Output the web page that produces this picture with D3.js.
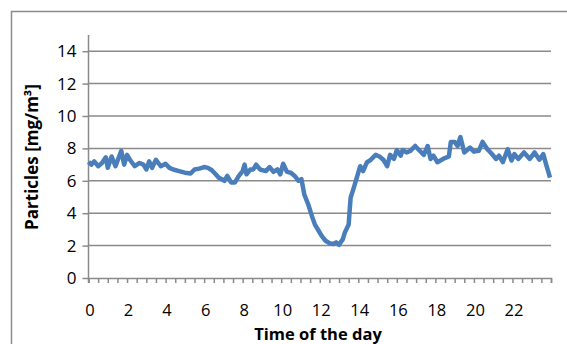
<!DOCTYPE html>
<html><head><meta charset="utf-8">
<script src="https://cdn.jsdelivr.net/npm/d3@7"></script>
<style>body{margin:0;background:#fff}svg{display:block}</style>
</head><body>
<script>
const hours = [0,0.15,0.3,0.5,0.7,0.9,1.0,1.2,1.4,1.7,1.85,2.0,2.15,2.4,2.65,2.85,3.0,3.15,3.3,3.5,3.75,4.0,4.2,4.4,4.7,5.0,5.3,5.5,5.75,6.0,6.2,6.4,6.6,6.75,7.05,7.2,7.4,7.6,7.8,8.0,8.1,8.2,8.4,8.55,8.7,8.9,9.2,9.4,9.6,9.8,9.95,10.1,10.3,10.5,10.7,10.9,11.05,11.2,11.4,11.6,11.75,11.95,12.1,12.3,12.5,12.7,12.85,13.0,13.2,13.3,13.5,13.6,13.8,14.0,14.1,14.25,14.45,14.6,14.9,15.1,15.3,15.5,15.65,15.85,16.0,16.2,16.3,16.5,16.7,16.95,17.15,17.4,17.6,17.75,17.9,18.1,18.4,18.7,18.8,19.0,19.15,19.3,19.5,19.8,20.0,20.25,20.45,20.7,20.9,21.15,21.3,21.5,21.75,21.95,22.1,22.3,22.6,22.9,23.15,23.4,23.6,23.75,23.95];
const particles = [7.17,7.0,7.2,6.9,7.1,7.45,6.8,7.5,6.9,7.85,7.0,7.6,7.3,6.9,7.1,7.0,6.7,7.2,6.8,7.3,6.9,7.05,6.8,6.7,6.6,6.5,6.45,6.7,6.75,6.85,6.8,6.65,6.4,6.2,6.0,6.3,5.9,5.9,6.3,6.6,7.0,6.4,6.7,6.7,7.0,6.7,6.6,6.85,6.55,6.7,6.4,7.05,6.55,6.5,6.3,6.0,6.1,5.15,4.55,3.8,3.3,2.9,2.6,2.3,2.15,2.1,2.2,2.05,2.4,2.8,3.3,4.95,5.7,6.5,6.9,6.6,7.15,7.25,7.6,7.5,7.3,6.9,7.6,7.35,7.9,7.55,7.9,7.75,7.85,8.15,7.9,7.6,8.15,7.35,7.55,7.15,7.35,7.5,8.4,8.4,8.15,8.7,7.75,8.05,7.8,7.85,8.4,7.95,7.7,7.35,7.55,7.15,7.95,7.25,7.65,7.35,7.75,7.35,7.75,7.3,7.65,7.0,6.2];
const yTicks = [0,2,4,6,8,10,12,14];
const xTickLabels = [0,2,4,6,8,10,12,14,16,18,20,22];
const yTitle = "Particles [mg/m³]";
const xTitle = "Time of the day";

const W = 567, H = 344;
const svg = d3.select("body").append("svg").attr("width", W).attr("height", H);
const font = "'Open Sans', Lato, sans-serif";

// outer frame
svg.append("path").attr("d", `M11.5,${H}V11.5H${W}`).attr("fill","none").attr("stroke","#8c8c8c").attr("stroke-width",1.5);

const x = d3.scaleLinear().domain([0,24]).range([88.5, 551]);
const y = d3.scaleLinear().domain([0,15]).range([278, 35]);
const grid = "#8a8a8a";

// gridlines
svg.append("g").selectAll("line").data(yTicks.filter(d=>d>0)).join("line")
  .attr("x1", x(0)).attr("x2", x(24)).attr("y1", d=>y(d)).attr("y2", d=>y(d))
  .attr("stroke", grid).attr("stroke-width", 1.5);

// y axis
const yAxis = svg.append("g").attr("transform",`translate(${x(0)},0)`)
  .call(d3.axisLeft(y).tickValues(yTicks).tickSize(6).tickPadding(6).tickFormat(d3.format("d")));
yAxis.select(".domain").remove();
yAxis.selectAll("line").attr("stroke", grid).attr("stroke-width",1.5);
yAxis.selectAll("text").attr("font-family", font).attr("font-size", 17).attr("fill","#000");
svg.append("line").attr("x1",x(0)).attr("x2",x(0)).attr("y1",y(15)).attr("y2",y(0)+5).attr("stroke",grid).attr("stroke-width",1.5);

// x axis
const minor = d3.range(0, 48.5, 1).map(i=>i*0.5);
const xAxis = svg.append("g").attr("transform",`translate(0,${y(0)})`)
  .call(d3.axisBottom(x).tickValues(minor).tickSize(5).tickFormat(""));
xAxis.select(".domain").attr("stroke", grid).attr("stroke-width",1.5);
xAxis.selectAll("line").attr("stroke", grid).attr("stroke-width",1.5);
svg.append("g").selectAll("text").data(xTickLabels).join("text")
  .attr("x", d=>x(d)+1.5).attr("y", 316).attr("text-anchor","middle")
  .attr("font-family", font).attr("font-size", 16.5).attr("fill","#000").text(d=>d);

// line
const pts = hours.map((h,i)=>[h, particles[i]]);
svg.append("path").datum(pts)
  .attr("d", d3.line().x(d=>x(d[0])).y(d=>y(d[1])))
  .attr("fill","none").attr("stroke","#4a7ebb").attr("stroke-width",4.5).attr("stroke-linejoin","round");

// titles
svg.append("text").attr("x", 318).attr("y", 340).attr("text-anchor","middle")
  .attr("font-family", font).attr("font-weight","bold").attr("font-size", 16.5).text(xTitle);
svg.append("text").attr("transform","translate(38,157) rotate(-90)").attr("text-anchor","middle")
  .attr("font-family", font).attr("font-weight","bold").attr("font-size", 17).text(yTitle);
</script>
</body></html>
